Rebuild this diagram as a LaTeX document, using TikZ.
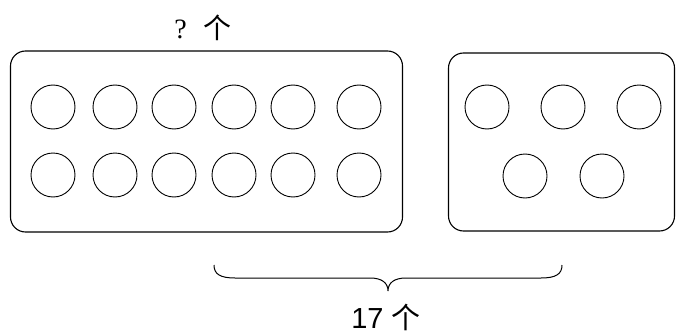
\documentclass[tikz,border=0pt]{standalone}
\usepackage{fontspec}
\setmainfont{Liberation Serif}
\setsansfont{Liberation Sans}
\newfontfamily\cjk{Noto Sans CJK SC}
\begin{document}
\begin{tikzpicture}[x=1pt,y=-1pt,
  boxstyle/.style={draw,line width=1.1pt,rounded corners=15pt},
  dot/.style={draw,circle,line width=0.9pt,minimum size=44pt,inner sep=0pt},
  lab/.style={font=\fontsize{28}{32}\selectfont,inner sep=0pt}]
\useasboundingbox (0,0) rectangle (676,334);
\node[boxstyle,minimum width=392pt,minimum height=181pt] (L) at (206.5,141.5) {};
\node[boxstyle,minimum width=226pt,minimum height=178pt] (R) at (561.5,142) {};
\foreach \x [count=\i] in {53,115,174,234,293,359}{
  \node[dot] (a\i) at (\x,107) {};
  \node[dot] (b\i) at (\x,175) {};
}
\foreach \x [count=\i] in {487,563,639}{
  \node[dot] (c\i) at (\x,107) {};
}
\foreach \x [count=\i] in {525,602}{
  \node[dot] (d\i) at (\x,176) {};
}
\node[lab] (q) at (203,28) {?\hspace{0.6em}{\cjk 个}};
\coordinate (bl) at (214,265);
\coordinate (br) at (562,265);
\coordinate (bt) at (388,291);
\draw[line width=1pt] (bl) .. controls (214,274) and (220,278) .. (235,278)
  -- (370,278) .. controls (382,278) and (388,283) .. (bt)
  .. controls (388,283) and (394,278) .. (406,278)
  -- (541,278) .. controls (556,278) and (562,274) .. (br);
\node[lab,font=\sffamily\fontsize{29}{32}\selectfont] (t) at (386,317) {17 {\cjk 个}};
\end{tikzpicture}
\end{document}
